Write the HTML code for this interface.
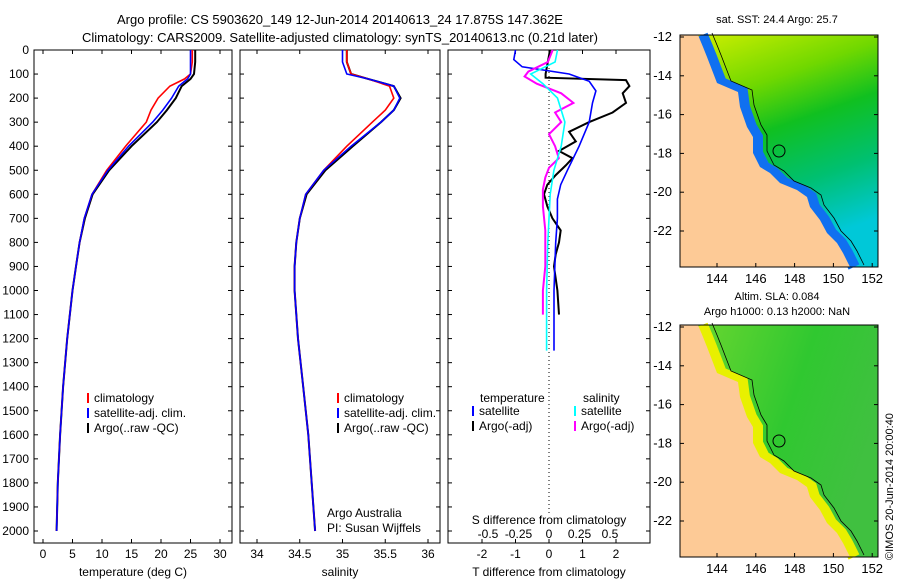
<!DOCTYPE html>
<html><head><meta charset="utf-8"><style>
body{margin:0;background:#fff}
svg{display:block;font-family:"Liberation Sans",sans-serif;font-size:12px}
</style></head><body>
<svg id="c" width="900" height="580" viewBox="0 0 900 580">
<text x="340" y="24" text-anchor="middle" font-size="13">Argo profile: CS 5903620_149 12-Jun-2014 20140613_24 17.875S 147.362E</text>
<text x="340" y="42" text-anchor="middle" font-size="13">Climatology: CARS2009. Satellite-adjusted climatology: synTS_20140613.nc (0.21d later)</text>
<g id="maps"></g>
</svg>
<script>
const depths=[0,50,100,120,150,200,250,300,400,500,600,700,800,900,1000,1200,1400,1600,1800,2000];
const tempArgo=[25.8,25.8,25.6,25.0,23.5,22.5,21,19.3,15,11.2,8.4,7.1,6.2,5.6,5.0,4.1,3.4,2.9,2.5,2.3];
const tempSat=[25.0,25.0,25.0,24.5,23,21.8,20.3,18.6,14.5,11.0,8.3,7.0,6.2,5.6,5.0,4.1,3.4,2.9,2.5,2.3];
const tempClim=[25.3,25.3,25.0,24,21.5,19.5,18.3,17.5,14.0,10.8,8.3,7.0,6.2,5.6,5.0,4.1,3.4,2.9,2.5,2.3];
const salArgo=[35.05,35.05,35.1,35.3,35.6,35.68,35.6,35.45,35.12,34.8,34.58,34.5,34.46,34.44,34.44,34.48,34.54,34.6,34.64,34.68];
const salSat=[35.0,35.0,35.05,35.3,35.6,35.67,35.6,35.45,35.1,34.78,34.57,34.5,34.46,34.44,34.44,34.48,34.54,34.6,34.64,34.68];
const salClim=[35.05,35.05,35.1,35.3,35.55,35.6,35.5,35.35,35.05,34.78,34.57,34.5,34.46,34.44,34.44,34.48,34.54,34.6,34.64,34.68];
const dTArgoDepth=[0,100,115,125,150,180,220,260,300,340,380,420,450,480,520,560,600,650,700,750,800,850,900,1000,1100];
const dTArgo=[0.03,-0.1,-0.1,2.3,2.4,2.2,2.3,1.9,1.2,0.6,0.8,0.3,0.7,0.5,0.2,-0.05,-0.15,-0.05,0.1,0.35,0.3,0.2,0.15,0.25,0.3];
const dTSatDepth=[0,40,70,100,130,170,220,300,400,500,560,620,700,800,1000,1250];
const dTSat=[-1.0,-1.05,-0.8,0.6,1.2,1.4,1.3,1.2,0.9,0.55,0.35,0.25,0.25,0.2,0.15,0.15];
const dSArgoDepth=[0,50,90,110,140,180,220,260,300,350,400,450,490,530,580,650,750,900,1000,1100];
const dSArgo=[0.03,-0.01,-0.17,-0.2,-0.1,0.1,0.2,0.05,0.1,0.0,0.05,0.08,0.0,-0.03,-0.05,-0.05,-0.03,-0.03,-0.05,-0.05];
const dSSatDepth=[0,50,100,140,200,300,400,500,600,800,1000,1250];
const dSSat=[0.07,0.05,-0.15,-0.05,0.07,0.13,0.1,0.04,0.01,-0.01,-0.02,-0.02];
const depthTicks=[0,100,200,300,400,500,600,700,800,900,1000,1100,1200,1300,1400,1500,1600,1700,1800,1900,2000];
const tempTicks=[0,5,10,15,20,25,30];
const salTicks=[34,34.5,35,35.5,36];
const tdTicks=[-2,-1,0,1,2];
const sdTicks=[-0.5,-0.25,0,0.25,0.5];

const NS="http://www.w3.org/2000/svg";
const svg=document.getElementById('c');
function mk(tag,attrs,parent){const e=document.createElementNS(NS,tag);for(const k in attrs)e.setAttribute(k,attrs[k]);(parent||svg).appendChild(e);return e;}
const yD=d=>50+d*0.2405;
const xT=t=>43+t*5.9, xS=s=>257+(s-34)*85.5, xTd=v=>549+v*33.5, xSd=v=>549+v*122;
const panels=[{x0:34,x1:232},{x0:240,x1:440},{x0:448,x1:650}];
panels.forEach((p,i)=>{
  const r=mk('rect',{x:p.x0,y:50,width:p.x1-p.x0,height:493,fill:'none',stroke:'#000','stroke-width':1});
  
  
  depthTicks.forEach(d=>{
    mk('line',{x1:p.x0,x2:p.x0+4,y1:yD(d),y2:yD(d),stroke:'#000'});
    mk('line',{x1:p.x1-4,x2:p.x1,y1:yD(d),y2:yD(d),stroke:'#000'});
  });
});
depthTicks.forEach(d=>{const t=mk('text',{x:29,y:yD(d)+4,'text-anchor':'end'});t.textContent=d;
  
  });
function xaxis(ticks,fx,fmt,p){ticks.forEach(v=>{const x=fx(v);
  mk('line',{x1:x,x2:x,y1:543,y2:539,stroke:'#000'});mk('line',{x1:x,x2:x,y1:50,y2:54,stroke:'#000'});
  const t=mk('text',{x:x,y:558,'text-anchor':'middle'});t.textContent=fmt(v);
  
  });}
xaxis(tempTicks,xT,v=>v);xaxis(salTicks,xS,v=>v);xaxis(tdTicks,xTd,v=>v);
sdTicks.forEach(v=>{const t=mk('text',{x:xSd(v),y:538,'text-anchor':'middle'});t.textContent=v;
  
  });
[[133,'temperature (deg C)'],[340,'salinity'],[549,'T difference from climatology']].forEach(a=>{
  const t=mk('text',{x:a[0],y:576,'text-anchor':'middle'});t.textContent=a[1];
  
  });
{const t=mk('text',{x:549,y:524,'text-anchor':'middle'});t.textContent='S difference from climatology';
  
  }
mk('line',{x1:549,x2:549,y1:52,y2:515,stroke:'#000','stroke-dasharray':'1,3'});
function line(ds,vs,fx,col,name,w){const pts=ds.map((d,i)=>fx(vs[i]).toFixed(1)+','+yD(d).toFixed(1)).join(' ');
  const l=mk('polyline',{points:pts,fill:'none',stroke:col,'stroke-width':w||1.6});
  
  }
line(depths,tempArgo,xT,'#000','temp-argo-line',2);line(depths,tempClim,xT,'#f00','temp-clim-line');line(depths,tempSat,xT,'#00f','temp-sat-line');
line(depths,salArgo,xS,'#000','sal-argo-line',2);line(depths,salClim,xS,'#f00','sal-clim-line');line(depths,salSat,xS,'#00f','sal-sat-line');
line(dTArgoDepth,dTArgo,xTd,'#000','tdiff-argo-line',2);line(dTSatDepth,dTSat,xTd,'#00f','tdiff-sat-line');
line(dSArgoDepth,dSArgo,xSd,'#f0f','sdiff-argo-line',2);line(dSSatDepth,dSSat,xSd,'#0ff','sdiff-sat-line');
function leg(x,y,col,txt){mk('line',{x1:x,x2:x,y1:y-9,y2:y+1,stroke:col,'stroke-width':2});
  const t=mk('text',{x:x+6,y:y});t.textContent=txt;
  
  }
[[88],[338]].forEach(a=>{leg(a[0],402,'#f00','climatology');leg(a[0],417,'#00f','satellite-adj. clim.');leg(a[0],432,'#000','Argo(..raw -QC)');});
{let t=mk('text',{x:480,y:402});t.textContent='temperature';t=mk('text',{x:583,y:402});t.textContent='salinity';}
leg(473,415,'#00f','satellite');leg(473,430,'#000','Argo(-adj)');leg(575,415,'#0ff','satellite');leg(575,430,'#f0f','Argo(-adj)');
{let t=mk('text',{x:327,y:517});t.textContent='Argo Australia';t=mk('text',{x:327,y:532});t.textContent='PI: Susan Wijffels';}

const coast=[[698,35],[703,47],[707,57],[712,70],[717,83],[738,92],[740,107],[747,127],[753,137],[753,153],[760,167],[770,173],[780,183],[797,190],[807,197],[810,207],[820,220],[827,233],[837,243],[843,253],[850,267]];
const defs=mk('defs',{});
defs.innerHTML='<linearGradient id="g1" x1="0" y1="0" x2="0.3" y2="1"><stop offset="0" stop-color="#d4f000"/><stop offset="0.3" stop-color="#70d800"/><stop offset="0.5" stop-color="#10c020"/><stop offset="0.75" stop-color="#00c070"/><stop offset="1" stop-color="#00c8d8"/></linearGradient><linearGradient id="g2" x1="0" y1="0" x2="1" y2="0.4"><stop offset="0" stop-color="#70d830"/><stop offset="0.6" stop-color="#30c830"/><stop offset="1" stop-color="#40c040"/></linearGradient>';
function map(dy,fill,band,idx){
  const g=mk('g',{transform:'translate(0,'+dy+')'});
  
  
  mk('rect',{x:680,y:35,width:198,height:232,fill:fill},g);
  mk('polyline',{points:coast.map(p=>(p[0]+4)+','+p[1]).join(' '),fill:'none',stroke:band,'stroke-width':12},g);
  mk('polyline',{points:coast.map(p=>(p[0]+14)+','+(p[1]-2)).join(' '),fill:'none',stroke:'#000','stroke-width':0.8},g);
  mk('polygon',{points:coast.map(p=>p.join(',')).join(' ')+' 680,267 680,35',fill:'#fdca96'},g);
  mk('circle',{cx:779,cy:151,r:6,fill:'none',stroke:'#000'},g);
  mk('rect',{x:680,y:35,width:198,height:232,fill:'none',stroke:'#000'},g);
  [-12,-14,-16,-18,-20,-22].forEach((lat,i)=>{const y=37+i*2*19.4;mk('line',{x1:680,x2:684,y1:y,y2:y,stroke:'#000'},g);mk('line',{x1:874,x2:878,y1:y,y2:y,stroke:'#000'},g);
    const t=mk('text',{x:672,y:y+4,'text-anchor':'end','font-size':13},g);t.textContent=lat;});
  [144,146,148,150,152].forEach(lon=>{const x=717+(lon-144)*19.4;mk('line',{x1:x,x2:x,y1:263,y2:267,stroke:'#000'},g);
    const t=mk('text',{x:x,y:283,'text-anchor':'middle','font-size':13},g);t.textContent=lon;});
}
map(0,'url(#g1)','#1070f0',1);map(290,'url(#g2)','#e8f000',2);
{let t=mk('text',{x:777,y:23,'text-anchor':'middle','font-size':11});t.textContent='sat. SST: 24.4 Argo: 25.7';
 t=mk('text',{x:777,y:300,'text-anchor':'middle','font-size':11});t.textContent='Altim. SLA: 0.084';
 t=mk('text',{x:777,y:315,'text-anchor':'middle','font-size':11});t.textContent='Argo h1000: 0.13 h2000: NaN';
 t=mk('text',{x:893,y:560,transform:'rotate(-90 893 560)','font-size':11});t.textContent='©IMOS 20-Jun-2014 20:00:40';}
</script>
</body></html>
